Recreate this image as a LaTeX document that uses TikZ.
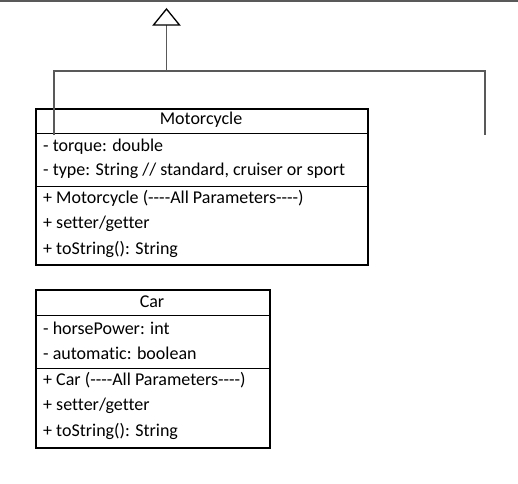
\documentclass[tikz,border=0pt]{standalone}
\usepackage{fontspec}
\setmainfont{Carlito}[Ligatures={NoCommon}]
\newcommand{\dd}{{-}{-}{-}{-}}
\begin{document}
\begin{tikzpicture}[x=1pt,y=-1pt,
  box/.style={draw=black,line width=1.8pt,inner sep=0pt,anchor=north west},
  sep/.style={draw=black,line width=0.9pt},
  member/.style={anchor=west,inner sep=0pt,font=\fontsize{18}{20}\selectfont},
  title/.style={anchor=center,inner sep=0pt,font=\fontsize{18}{20}\selectfont},
  conn/.style={draw=black!65,line width=1.3pt},
  tri/.style={draw=black,line width=1.3pt,fill=white,line join=miter}]
\useasboundingbox (0,0) rectangle (518,483);
% top border line
\draw[draw=black!65,line width=2pt] (0,1) -- (518,1);
% Motorcycle class
\node[box,minimum width=332pt,minimum height=156pt] (moto) at (35,108) {};
\draw[sep] (35,133) -- (367,133);
\draw[sep] (35,186) -- (367,186);
\node[title] (motoT) at (201,120) {Motorcycle};
\node[member] (m1) at (43,147) {- torque: double};
\node[member] (m2) at (43,171) {- type: String // standard, cruiser or sport};
\node[member] (m3) at (43,198) {+ Motorcycle (\dd All Parameters\dd)};
\node[member] (m4) at (43,224) {+ setter/getter};
\node[member] (m5) at (43,249) {+ toString(): String};
% Car class
\node[box,minimum width=234pt,minimum height=158pt] (car) at (35,289) {};
\draw[sep] (35,315) -- (269,315);
\draw[sep] (35,368) -- (269,368);
\node[title] (carT) at (152,302) {Car};
\node[member] (c1) at (43,328) {- horsePower: int};
\node[member] (c2) at (43,353) {- automatic: boolean};
\node[member] (c3) at (43,380) {+ Car (\dd All Parameters\dd)};
\node[member] (c4) at (43,406) {+ setter/getter};
\node[member] (c5) at (43,431) {+ toString(): String};
% inheritance connectors
\coordinate (apex) at (166.5,9);
\coordinate (baseL) at (153.5,25);
\coordinate (baseR) at (179.5,25);
\coordinate (baseM) at (166.5,25);
\coordinate (junc) at (166.5,71);
\coordinate (lt) at (54,71);
\coordinate (rt) at (485,71);
\coordinate (lb) at (54,135);
\coordinate (rb) at (485,135);
\draw[conn] (baseM) -- (junc);
\draw[conn] (lb) -- (lt) -- (rt) -- (rb);
\draw[tri] (apex) -- (baseR) -- (baseL) -- cycle;
\end{tikzpicture}
\end{document}
